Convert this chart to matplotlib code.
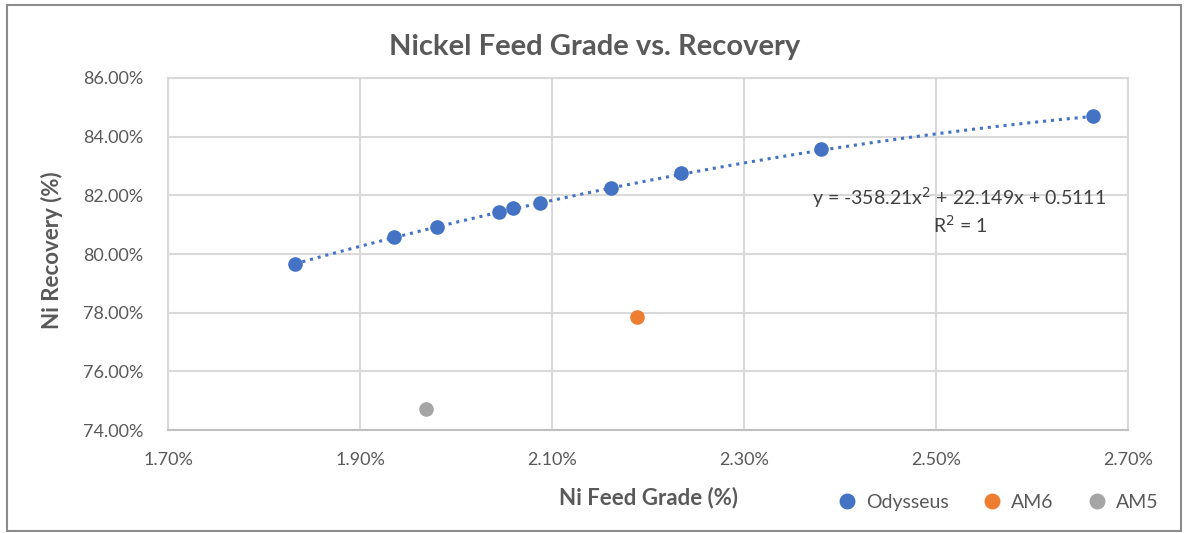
import numpy as np
import matplotlib.pyplot as plt
from matplotlib.ticker import PercentFormatter
from matplotlib.patches import Rectangle

# feed grade / recovery, stored as fractions
odysseus_grade = [0.01832, 0.01935, 0.01980, 0.02045, 0.02059, 0.02088,
                  0.02161, 0.02234, 0.02380, 0.02664]
odysseus_recovery = [0.7966, 0.8059, 0.8093, 0.8143, 0.8156, 0.8174,
                     0.8226, 0.8276, 0.8357, 0.8471]
am6_grade = [0.02189]
am6_recovery = [0.7784]
am5_grade = [0.01969]
am5_recovery = [0.7473]

# quadratic trendline coefficients (a, b, c) for y = a*x^2 + b*x + c
trend_coef = [-358.21, 22.149, 0.5111]
trend_r2 = 1

x_ticks = [0.017, 0.019, 0.021, 0.023, 0.025, 0.027]
y_ticks = [0.74, 0.76, 0.78, 0.80, 0.82, 0.84, 0.86]

blue = "#4472C4"
orange = "#ED7D31"
grey = "#A5A5A5"
text_grey = "#595959"

plt.rcParams["font.family"] = ["Lato", "DejaVu Sans"]

fig = plt.figure(figsize=(11.87, 5.33), dpi=100)
ax = fig.add_axes([0.1415, 0.1932, 0.8088, 0.6605])

# outer chart frame
fig.patches.append(Rectangle((0.006, 0.004), 0.989, 0.986, transform=fig.transFigure,
                             fill=False, edgecolor="#8c8c8c", linewidth=1.5))

xs = np.linspace(min(odysseus_grade), max(odysseus_grade), 200)
ax.plot(xs, np.polyval(trend_coef, xs), linestyle=(0, (1, 1.6)), color=blue,
        linewidth=2.2, zorder=2)

ax.plot(odysseus_grade, odysseus_recovery, "o", color=blue, markersize=9.5,
        label="Odysseus", zorder=3)
ax.plot(am6_grade, am6_recovery, "o", color=orange, markersize=9.5,
        label="AM6", zorder=3)
ax.plot(am5_grade, am5_recovery, "o", color=grey, markersize=9.5,
        label="AM5", zorder=3)

ax.set_xlim(x_ticks[0], x_ticks[-1])
ax.set_ylim(y_ticks[0], y_ticks[-1])
ax.set_xticks(x_ticks)
ax.set_yticks(y_ticks)
ax.xaxis.set_major_formatter(PercentFormatter(xmax=1, decimals=2))
ax.yaxis.set_major_formatter(PercentFormatter(xmax=1, decimals=2))
ax.tick_params(length=0, labelsize=13, colors=text_grey)
ax.tick_params(axis="x", pad=16)
ax.tick_params(axis="y", pad=18)
ax.grid(True, color="#d9d9d9", linewidth=1.5)
ax.set_axisbelow(True)
for side in ax.spines.values():
    side.set_color("#d9d9d9")
    side.set_linewidth(1.5)
ax.spines["bottom"].set_color("#bfbfbf")

fig.text(0.501, 0.912, "Nickel Feed Grade vs. Recovery", ha="center", va="center",
         fontsize=21, fontweight="bold", color=text_grey)
fig.text(0.546, 0.066, "Ni Feed Grade (%)", ha="center", va="center",
         fontsize=16, fontweight="bold", color=text_grey)
fig.text(0.044, 0.531, "Ni Recovery (%)", ha="center", va="center", rotation=90,
         fontsize=16, fontweight="bold", color=text_grey)

a, b, c = trend_coef
eq = f"y = {a:g}x$^2$ + {b:g}x + {c:g}"
ax.text(0.0270 - 0.00023, 0.8192, eq, ha="right", va="center", fontsize=14,
        color="#404040")
ax.text(0.02497, 0.8098, f"R$^2$ = {trend_r2}", ha="left", va="center",
        fontsize=14, color="#404040")

fig.legend(loc="center", bbox_to_anchor=(0.8366, 0.058), ncol=3, frameon=False,
           fontsize=14, labelcolor=text_grey, handletextpad=0.0,
           columnspacing=1.2, markerscale=1.1)

fig.savefig("out.png", dpi=100)
